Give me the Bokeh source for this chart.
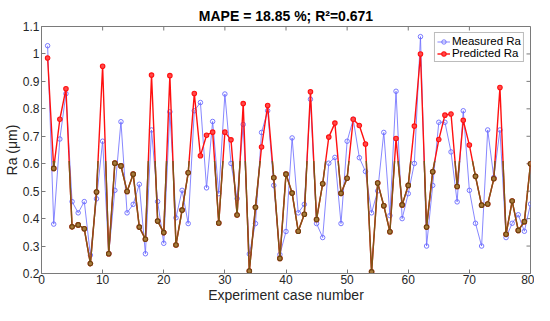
import numpy as np
from bokeh.plotting import figure
from bokeh.models import (Range1d, FixedTicker, CustomJSTickFormatter,
                          Legend, LegendItem, ColumnDataSource)
from bokeh.embed import file_html
from bokeh.resources import INLINE

title_text = "MAPE = 18.85 %; R²=0.671"
x_label = "Experiment case number"
y_label = "Ra (μm)"

case = list(range(1, 81))
measured = [1.03, 0.38, 0.69, 0.855, 0.462, 0.421, 0.462, 0.267, 0.472, 0.682,
            0.273, 0.503, 0.753, 0.421, 0.452, 0.525, 0.272, 0.723, 0.462, 0.31,
            0.789, 0.403, 0.503, 0.382, 0.793, 0.823, 0.512, 0.754, 0.491, 0.854,
            0.601, 0.473, 0.743, 0.271, 0.382, 0.714, 0.793, 0.521, 0.269, 0.353,
            0.694, 0.421, 0.452, 0.835, 0.382, 0.331, 0.602, 0.623, 0.382, 0.682,
            0.762, 0.622, 0.572, 0.421, 0.501, 0.714, 0.411, 0.864, 0.40, 0.491,
            0.601, 1.063, 0.30, 0.521, 0.751, 0.751, 0.643, 0.461, 0.793, 0.503,
            0.383, 0.30, 0.723, 0.55, 0.723, 0.331, 0.383, 0.414, 0.354, 0.453]
predicted = [0.985, 0.583, 0.762, 0.873, 0.37, 0.377, 0.363, 0.236, 0.497, 0.955,
             0.272, 0.602, 0.592, 0.499, 0.562, 0.369, 0.325, 0.923, 0.391, 0.349,
             0.921, 0.304, 0.431, 0.567, 0.856, 0.629, 0.704, 0.715, 0.384, 0.715,
             0.687, 0.413, 0.819, 0.209, 0.441, 0.661, 0.812, 0.549, 0.255, 0.562,
             0.493, 0.354, 0.416, 0.862, 0.397, 0.527, 0.697, 0.748, 0.492, 0.547,
             0.762, 0.739, 0.672, 0.206, 0.53, 0.447, 0.352, 0.692, 0.45, 0.521,
             0.737, 1.0, 0.369, 0.571, 0.688, 0.777, 0.781, 0.517, 0.758, 0.668,
             0.554, 0.449, 0.453, 0.545, 0.878, 0.343, 0.464, 0.357, 0.389, 0.60]
x_ticks = [0, 10, 20, 30, 40, 50, 60, 70, 80]
y_ticks = [0.2, 0.3, 0.4, 0.5, 0.6, 0.7, 0.8, 0.9, 1.0, 1.1]
series_names = ["Measured Ra", "Predicted Ra"]

FONT = "Liberation Sans"
AX = "#7a7a7a"
TXT = "#262626"
BLUE = "#6a6aff"
RED = "#ff1010"
BROWN = "#7d5717"
THR = 0.61

x_lo, x_hi = x_ticks[0], x_ticks[-1]
y_lo, y_hi = y_ticks[0], y_ticks[-1]

p = figure(width=534, height=305, output_backend="svg", toolbar_location=None,
           x_range=Range1d(x_lo, x_hi), y_range=Range1d(y_lo, y_hi),
           min_border_left=38, min_border_right=4, min_border_top=26,
           min_border_bottom=20)
p.xgrid.visible = False
p.ygrid.visible = False
p.outline_line_color = AX
p.outline_line_width = 1

p.title.text = title_text
p.title.align = "center"
p.title.text_font = FONT
p.title.text_font_size = "14px"
p.title.text_font_style = "bold"
p.title.text_color = "black"
p.title.standoff = 5

fmt = CustomJSTickFormatter(code="var v = Math.round(tick*10)/10; return v.toString();")

for ax in (p.xaxis[0], p.yaxis[0]):
    ax.axis_line_color = AX
    ax.major_tick_line_color = AX
    ax.minor_tick_line_color = None
    ax.major_tick_in = 4
    ax.major_tick_out = 0
    ax.major_label_text_font = FONT
    ax.major_label_text_color = TXT
    ax.major_label_text_font_size = "12px"
    ax.axis_label_text_font = FONT
    ax.axis_label_text_font_size = "14px"
    ax.axis_label_text_font_style = "normal"
    ax.axis_label_text_color = TXT

p.xaxis.major_label_standoff = 1
p.xaxis.axis_label_standoff = 0
p.yaxis.major_label_standoff = 2
p.yaxis.axis_label_standoff = 0

p.xaxis.ticker = FixedTicker(ticks=x_ticks)
p.yaxis.ticker = FixedTicker(ticks=y_ticks)
p.yaxis.formatter = fmt
p.xaxis.axis_label = x_label
p.yaxis.axis_label = y_label

# tick marks on the top and right edges of the box
p.ray(x=x_ticks, y=[y_hi] * len(x_ticks), length=4, length_units="screen",
      angle=-np.pi / 2, line_color=AX, line_width=1)
p.ray(x=[x_hi] * len(y_ticks), y=y_ticks, length=4, length_units="screen",
      angle=np.pi, line_color=AX, line_width=1)

src = ColumnDataSource(dict(x=case, m=measured, pr=predicted))
bl = p.line("x", "m", source=src, line_color=BLUE, line_width=0.9, line_alpha=0.9)
bm = p.scatter("x", "m", source=src, marker="circle", size=4.5, line_color=BLUE,
               fill_color="white", fill_alpha=0.0, line_width=0.9)
rl = p.line("x", "pr", source=src, line_color=RED, line_width=1.4)
rm = p.scatter("x", "pr", source=src, marker="circle", size=4.5, line_color=RED,
               fill_color="#ff4a4a", line_width=1.1)

# darker tone where predicted values lie in the lower band
low_idx = [i for i, v in enumerate(predicted) if v <= THR]
x0, y0, x1, y1 = [], [], [], []
for i in range(len(case) - 1):
    xa, ya, xb, yb = case[i], predicted[i], case[i + 1], predicted[i + 1]
    if ya <= THR and yb <= THR:
        x0.append(xa); y0.append(ya); x1.append(xb); y1.append(yb)
    elif ya <= THR < yb:
        t = (THR - ya) / (yb - ya)
        x0.append(xa); y0.append(ya); x1.append(xa + t * (xb - xa)); y1.append(THR)
    elif yb <= THR < ya:
        t = (THR - yb) / (ya - yb)
        x0.append(xb); y0.append(yb); x1.append(xb + t * (xa - xb)); y1.append(THR)
p.segment(x0=x0, y0=y0, x1=x1, y1=y1, line_color=BROWN, line_width=1.4)
p.scatter(x=[case[i] for i in low_idx], y=[predicted[i] for i in low_idx],
          marker="circle", size=4.5, line_color="#6a4510", fill_color="#a87a3a",
          line_width=1.1)

legend = Legend(items=[LegendItem(label=series_names[0], renderers=[bl, bm]),
                       LegendItem(label=series_names[1], renderers=[rl, rm])],
                location="top_right")
legend.label_text_font = FONT
legend.label_text_font_size = "11.5px"
legend.label_text_color = "black"
legend.label_height = 11
legend.label_standoff = 2
legend.glyph_height = 11
legend.glyph_width = 13
legend.padding = 2
legend.spacing = 0
legend.margin = 6
legend.border_line_color = AX
legend.border_line_width = 1
legend.background_fill_color = "white"
legend.background_fill_alpha = 1.0
p.add_layout(legend)

open("out.html", "w").write(file_html(p, INLINE))
